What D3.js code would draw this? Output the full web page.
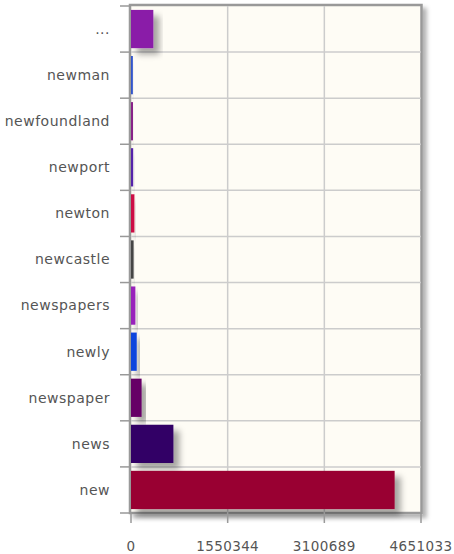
<!DOCTYPE html>
<html><head><meta charset="utf-8">
<script src="https://cdn.jsdelivr.net/npm/d3@7"></script>
<style>body{margin:0;background:#fff;}svg{display:block;}</style>
</head><body>
<script>
const categories = ["...", "newman", "newfoundland", "newport", "newton", "newcastle", "newspapers", "newly", "newspaper", "news", "new"];
const values = [358000, 30000, 32000, 35000, 55000, 42000, 70000, 92000, 170000, 680000, 4228212];
const colors = ["#8a1fa8", "#3355cc", "#882288", "#5522aa", "#cc1144", "#444444", "#9922bb", "#1144dd", "#660066", "#330066", "#990033"];
const tickValues = [0, 1550344, 3100689, 4651033];

const W = 454, H = 554;
const m = {left: 131, right: 33, top: 6, bottom: 41};
const svg = d3.select("body").append("svg").attr("width", W).attr("height", H);
const defs = svg.append("defs");
const f = defs.append("filter").attr("id", "sh").attr("x", "-20%").attr("y", "-20%").attr("width", "160%").attr("height", "160%");
f.append("feDropShadow").attr("dx", 6).attr("dy", 6).attr("stdDeviation", 3).attr("flood-color", "#000").attr("flood-opacity", 0.35);
const f2 = defs.append("filter").attr("id", "sh2").attr("x", "-10%").attr("y", "-10%").attr("width", "120%").attr("height", "120%");
f2.append("feDropShadow").attr("dx", 4).attr("dy", 4).attr("stdDeviation", 2).attr("flood-color", "#000").attr("flood-opacity", 0.3);

const x = d3.scaleLinear().domain([0, 4651033]).range([m.left, W - m.right]);
const y = d3.scaleBand().domain(categories).range([m.top, H - m.bottom]).paddingInner(0.17).paddingOuter(0.085);
const yb = d3.scaleBand().domain(categories).range([m.top, H - m.bottom]);

// frame with shadow
svg.append("rect").attr("x", m.left - 1).attr("y", m.top - 1)
  .attr("width", x.range()[1] - m.left + 1.5).attr("height", H - m.bottom - m.top + 1)
  .attr("fill", "#fefcf5").attr("stroke", "#999").attr("stroke-width", 2.5).attr("filter", "url(#sh2)");

// grid
const g = svg.append("g");
g.selectAll(".vg").data(tickValues.slice(1, -1)).enter().append("line")
  .attr("x1", d => x(d)).attr("x2", d => x(d)).attr("y1", m.top).attr("y2", H - m.bottom)
  .attr("stroke", "#ccc").attr("stroke-width", 1.5);
g.selectAll(".hg").data(categories.slice(1)).enter().append("line")
  .attr("x1", m.left).attr("x2", x.range()[1]).attr("y1", d => yb(d)).attr("y2", d => yb(d))
  .attr("stroke", "#ccc").attr("stroke-width", 1.5);

// bars
svg.selectAll(".bar").data(categories).enter().append("rect")
  .attr("x", x(0)).attr("y", d => y(d))
  .attr("width", (d, i) => x(values[i]) - x(0)).attr("height", y.bandwidth())
  .attr("fill", (d, i) => colors[i]).attr("filter", "url(#sh)");

// y ticks and labels
svg.selectAll(".yt").data(categories.concat(["_end"])).enter().append("line")
  .attr("x1", 120).attr("x2", m.left).attr("y1", (d, i) => m.top + i * yb.step()).attr("y2", (d, i) => m.top + i * yb.step())
  .attr("stroke", "#999").attr("stroke-width", 1.5);
svg.selectAll(".yl").data(categories).enter().append("text")
  .attr("x", 110).attr("y", d => yb(d) + yb.bandwidth() / 2).attr("dy", "0.35em")
  .attr("text-anchor", "end").attr("font-family", "DejaVu Sans, Verdana, sans-serif").attr("font-size", 14)
  .attr("letter-spacing", 0.5).attr("fill", "#555").text(d => d);

// x axis ticks and labels
svg.selectAll(".xt").data(tickValues).enter().append("line")
  .attr("x1", d => x(d)).attr("x2", d => x(d)).attr("y1", H - m.bottom).attr("y2", H - m.bottom + 10)
  .attr("stroke", "#999").attr("stroke-width", 1.5);
svg.selectAll(".xl").data(tickValues).enter().append("text")
  .attr("x", d => x(d)).attr("y", 551).attr("text-anchor", "middle")
  .attr("font-family", "DejaVu Sans, Verdana, sans-serif").attr("font-size", 13.5).attr("letter-spacing", 0.4)
  .attr("fill", "#555").text(d => d);
</script>
</body></html>
